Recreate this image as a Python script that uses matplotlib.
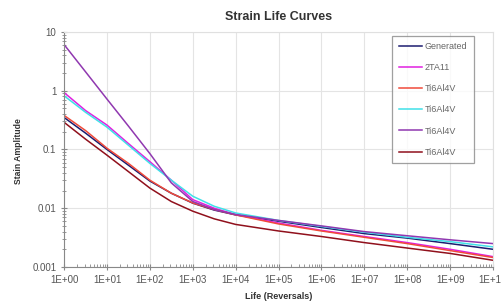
import matplotlib
matplotlib.use("Agg")
import matplotlib.pyplot as plt
from matplotlib.ticker import LogLocator, FixedFormatter, FixedLocator, NullFormatter

plt.rcParams['font.family'] = ['Liberation Sans', 'DejaVu Sans']

# life in reversals (2N), half decades where the curves bend
life = [1, 3.16, 10, 31.6, 100, 316, 1000, 3160, 1e4, 1e5, 1e6, 1e7, 1e8, 1e9, 1e10]

# strain amplitude
generated = [0.35, 0.19, 0.10, 0.054, 0.029, 0.018, 0.0122, 0.0093, 0.0077,
             0.0060, 0.0047, 0.0037, 0.0031, 0.0025, 0.0020]
ta11 = [0.93, 0.46, 0.26, 0.126, 0.062, 0.030, 0.014, 0.0100, 0.0078,
        0.0056, 0.0042, 0.0033, 0.0026, 0.0020, 0.0015]
ti_red = [0.38, 0.21, 0.105, 0.058, 0.030, 0.018, 0.0123, 0.0095, 0.0077,
          0.0054, 0.0041, 0.0032, 0.0025, 0.0019, 0.00145]
ti_cyan = [0.82, 0.43, 0.24, 0.118, 0.058, 0.030, 0.016, 0.0108, 0.0083,
           0.0062, 0.0049, 0.0039, 0.0032, 0.0027, 0.0022]
ti_purple = [6.1, 2.1, 0.72, 0.25, 0.085, 0.027, 0.013, 0.0095, 0.0078,
             0.0062, 0.0050, 0.0040, 0.0034, 0.0029, 0.0025]
ti_dark = [0.29, 0.15, 0.080, 0.042, 0.022, 0.013, 0.0089, 0.0066, 0.0053,
           0.0041, 0.0033, 0.0026, 0.0021, 0.0017, 0.0013]

series = [
    ("Generated", generated, "#1c1c70"),
    ("2TA11", ta11, "#e020e0"),
    ("Ti6Al4V", ti_red, "#f04a3a"),
    ("Ti6Al4V", ti_cyan, "#40e0e8"),
    ("Ti6Al4V", ti_purple, "#9038b0"),
    ("Ti6Al4V", ti_dark, "#90101c"),
]

x_labels = ["1E+00", "1E+01", "1E+02", "1E+03", "1E+04", "1E+05",
            "1E+06", "1E+07", "1E+08", "1E+09", "1E+10"]
y_labels = ["0.001", "0.01", "0.1", "1", "10"]

fig = plt.figure(figsize=(5.01, 3.02), dpi=100)
ax = fig.add_axes([0.128, 0.116, 0.856, 0.778])

for name, vals, col in series:
    ax.plot(life, vals, color=col, lw=1.1, label=name)

ax.set_xscale("log")
ax.set_yscale("log")
ax.set_xlim(1, 1e10)
ax.set_ylim(0.001, 10)

ax.xaxis.set_major_locator(FixedLocator([10.0 ** i for i in range(11)]))
ax.xaxis.set_major_formatter(FixedFormatter(x_labels))
ax.xaxis.set_minor_locator(LogLocator(base=10, subs=range(2, 10), numticks=100))
ax.xaxis.set_minor_formatter(NullFormatter())
ax.yaxis.set_major_locator(FixedLocator([0.001, 0.01, 0.1, 1, 10]))
ax.yaxis.set_major_formatter(FixedFormatter(y_labels))
ax.yaxis.set_minor_locator(LogLocator(base=10, subs=range(2, 10), numticks=100))
ax.yaxis.set_minor_formatter(NullFormatter())

ax.tick_params(axis="both", which="major", labelsize=7, labelcolor="#555555",
               color="#888888", length=4, direction="inout")
ax.tick_params(axis="x", which="minor", color="#888888", length=2, direction="in")
ax.tick_params(axis="y", which="minor", color="#888888", length=3, direction="inout")

ax.grid(True, which="major", color="#e4e4e4", lw=0.8)
ax.set_axisbelow(True)
for side in ["top", "right"]:
    ax.spines[side].set_color("#e0e0e0")
for side in ["left", "bottom"]:
    ax.spines[side].set_color("#888888")

ax.set_title("Strain Life Curves", fontsize=9, fontweight="bold", color="#333333", pad=9)
ax.set_xlabel("Life (Reversals)", fontsize=6.5, fontweight="bold", color="#333333", labelpad=5)
fig.text(0.036, 0.5, "Stain Amplitude", rotation=90, fontsize=6.2, fontweight="bold",
         color="#333333", ha="center", va="center")

leg = ax.legend(loc="upper right", bbox_to_anchor=(0.955, 0.985), fontsize=6.5,
                frameon=True, fancybox=False, edgecolor="#888888", labelspacing=1.35,
                handlelength=2.6, handletextpad=0.3, borderpad=0.7, borderaxespad=0)
leg.get_frame().set_linewidth(0.9)
for t in leg.get_texts():
    t.set_color("#666666")

fig.savefig("out.png", dpi=100)
